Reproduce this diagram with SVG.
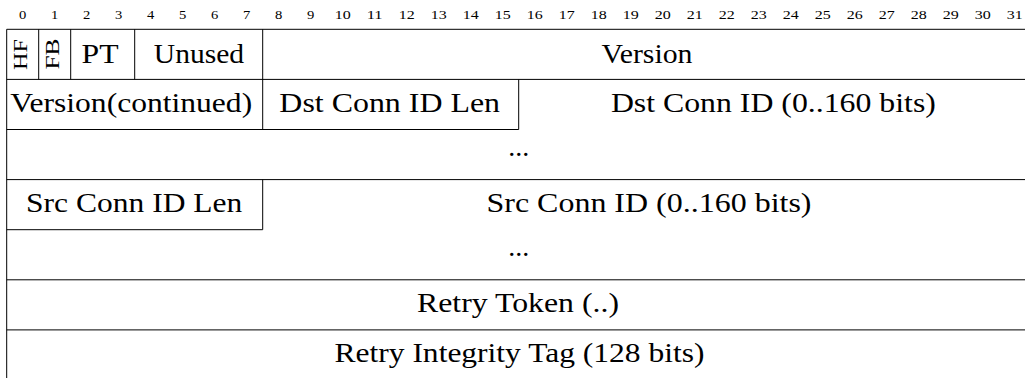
<svg xmlns="http://www.w3.org/2000/svg" width="1025" height="378" viewBox="0 0 1025 378">
  <style>
    .bg { fill: #ffffff; }
    .rule { stroke: #000000; stroke-width: 1; fill: none; }
    text { font-family: 'Liberation Serif', serif; fill: #000000; text-anchor: middle; }
    .bit { font-size: 12px; }
    .lbl { font-size: 26.5px; }
    .rot { font-size: 19.5px; }
  </style>
  <rect class="bg" x="0" y="0" width="1025" height="378"/>

  <!-- bit ruler, 32 px per bit starting at x=6.7 -->
  <g id="bit-ruler">
    <text class="bit" x="22.7" y="19" textLength="7.3" lengthAdjust="spacingAndGlyphs">0</text>
    <text class="bit" x="54.7" y="19" textLength="7.3" lengthAdjust="spacingAndGlyphs">1</text>
    <text class="bit" x="86.7" y="19" textLength="7.3" lengthAdjust="spacingAndGlyphs">2</text>
    <text class="bit" x="118.7" y="19" textLength="7.3" lengthAdjust="spacingAndGlyphs">3</text>
    <text class="bit" x="150.7" y="19" textLength="7.3" lengthAdjust="spacingAndGlyphs">4</text>
    <text class="bit" x="182.7" y="19" textLength="7.3" lengthAdjust="spacingAndGlyphs">5</text>
    <text class="bit" x="214.7" y="19" textLength="7.3" lengthAdjust="spacingAndGlyphs">6</text>
    <text class="bit" x="246.7" y="19" textLength="7.3" lengthAdjust="spacingAndGlyphs">7</text>
    <text class="bit" x="278.7" y="19" textLength="7.3" lengthAdjust="spacingAndGlyphs">8</text>
    <text class="bit" x="310.7" y="19" textLength="7.3" lengthAdjust="spacingAndGlyphs">9</text>
    <text class="bit" x="342.7" y="19" textLength="16" lengthAdjust="spacingAndGlyphs">10</text>
    <text class="bit" x="374.7" y="19" textLength="16" lengthAdjust="spacingAndGlyphs">11</text>
    <text class="bit" x="406.7" y="19" textLength="16" lengthAdjust="spacingAndGlyphs">12</text>
    <text class="bit" x="438.7" y="19" textLength="16" lengthAdjust="spacingAndGlyphs">13</text>
    <text class="bit" x="470.7" y="19" textLength="16" lengthAdjust="spacingAndGlyphs">14</text>
    <text class="bit" x="502.7" y="19" textLength="16" lengthAdjust="spacingAndGlyphs">15</text>
    <text class="bit" x="534.7" y="19" textLength="16" lengthAdjust="spacingAndGlyphs">16</text>
    <text class="bit" x="566.7" y="19" textLength="16" lengthAdjust="spacingAndGlyphs">17</text>
    <text class="bit" x="598.7" y="19" textLength="16" lengthAdjust="spacingAndGlyphs">18</text>
    <text class="bit" x="630.7" y="19" textLength="16" lengthAdjust="spacingAndGlyphs">19</text>
    <text class="bit" x="662.7" y="19" textLength="16" lengthAdjust="spacingAndGlyphs">20</text>
    <text class="bit" x="694.7" y="19" textLength="16" lengthAdjust="spacingAndGlyphs">21</text>
    <text class="bit" x="726.7" y="19" textLength="16" lengthAdjust="spacingAndGlyphs">22</text>
    <text class="bit" x="758.7" y="19" textLength="16" lengthAdjust="spacingAndGlyphs">23</text>
    <text class="bit" x="790.7" y="19" textLength="16" lengthAdjust="spacingAndGlyphs">24</text>
    <text class="bit" x="822.7" y="19" textLength="16" lengthAdjust="spacingAndGlyphs">25</text>
    <text class="bit" x="854.7" y="19" textLength="16" lengthAdjust="spacingAndGlyphs">26</text>
    <text class="bit" x="886.7" y="19" textLength="16" lengthAdjust="spacingAndGlyphs">27</text>
    <text class="bit" x="918.7" y="19" textLength="16" lengthAdjust="spacingAndGlyphs">28</text>
    <text class="bit" x="950.7" y="19" textLength="16" lengthAdjust="spacingAndGlyphs">29</text>
    <text class="bit" x="982.7" y="19" textLength="16" lengthAdjust="spacingAndGlyphs">30</text>
    <text class="bit" x="1014.7" y="19" textLength="16" lengthAdjust="spacingAndGlyphs">31</text>
  </g>

  <!-- field borders -->
  <g id="connectors">
    <line class="rule" x1="6.7" y1="29.3" x2="6.7" y2="378"/>
    <line class="rule" x1="6.7" y1="29.3" x2="1025" y2="29.3"/>
    <line class="rule" x1="6.7" y1="79.4" x2="1025" y2="79.4"/>
    <line class="rule" x1="6.7" y1="129.5" x2="518.7" y2="129.5"/>
    <line class="rule" x1="6.7" y1="179.6" x2="1025" y2="179.6"/>
    <line class="rule" x1="6.7" y1="229.7" x2="262.7" y2="229.7"/>
    <line class="rule" x1="6.7" y1="279.8" x2="1025" y2="279.8"/>
    <line class="rule" x1="6.7" y1="329.9" x2="1025" y2="329.9"/>
    <line class="rule" x1="38.7" y1="29.3" x2="38.7" y2="79.4"/>
    <line class="rule" x1="70.7" y1="29.3" x2="70.7" y2="79.4"/>
    <line class="rule" x1="134.7" y1="29.3" x2="134.7" y2="79.4"/>
    <line class="rule" x1="262.7" y1="29.3" x2="262.7" y2="129.5"/>
    <line class="rule" x1="518.7" y1="79.4" x2="518.7" y2="129.5"/>
    <line class="rule" x1="262.7" y1="179.6" x2="262.7" y2="229.7"/>
  </g>

  <g id="fields">
    <!-- row 0 -->
    <g id="field-hf">
      <text class="rot" transform="translate(27.3,54.5) rotate(-90)" x="0" y="0" textLength="31" lengthAdjust="spacingAndGlyphs">HF</text>
    </g>
    <g id="field-fb">
      <text class="rot" transform="translate(59.3,54) rotate(-90)" x="0" y="0" textLength="31" lengthAdjust="spacingAndGlyphs">FB</text>
    </g>
    <g id="field-pt">
      <text class="lbl" x="100" y="63.3" textLength="37" lengthAdjust="spacingAndGlyphs">PT</text>
    </g>
    <g id="field-unused">
      <text class="lbl" x="199" y="63.3" textLength="90.3" lengthAdjust="spacingAndGlyphs">Unused</text>
    </g>
    <g id="field-version">
      <text class="lbl" x="647" y="63.3" textLength="91" lengthAdjust="spacingAndGlyphs">Version</text>
    </g>

    <!-- row 1 -->
    <g id="field-version-continued">
      <text class="lbl" x="131.2" y="112" textLength="242" lengthAdjust="spacingAndGlyphs">Version(continued)</text>
    </g>
    <g id="field-dst-conn-id-len">
      <text class="lbl" x="389.7" y="112" textLength="220.7" lengthAdjust="spacingAndGlyphs">Dst Conn ID Len</text>
    </g>
    <g id="field-dst-conn-id">
      <text class="lbl" x="773.4" y="112" textLength="325" lengthAdjust="spacingAndGlyphs">Dst Conn ID (0..160 bits)</text>
      <text class="lbl" x="518.7" y="155.5" textLength="21" lengthAdjust="spacingAndGlyphs">...</text>
    </g>

    <!-- row 3 -->
    <g id="field-src-conn-id-len">
      <text class="lbl" x="134.2" y="212" textLength="216.3" lengthAdjust="spacingAndGlyphs">Src Conn ID Len</text>
    </g>
    <g id="field-src-conn-id">
      <text class="lbl" x="649" y="212" textLength="325" lengthAdjust="spacingAndGlyphs">Src Conn ID (0..160 bits)</text>
      <text class="lbl" x="518.7" y="255.6" textLength="21" lengthAdjust="spacingAndGlyphs">...</text>
    </g>

    <!-- rows 5 and 6 -->
    <g id="field-retry-token">
      <text class="lbl" x="518" y="312.3" textLength="202" lengthAdjust="spacingAndGlyphs">Retry Token (..)</text>
    </g>
    <g id="field-retry-integrity-tag">
      <text class="lbl" x="519.5" y="362" textLength="370" lengthAdjust="spacingAndGlyphs">Retry Integrity Tag (128 bits)</text>
    </g>
  </g>
</svg>
